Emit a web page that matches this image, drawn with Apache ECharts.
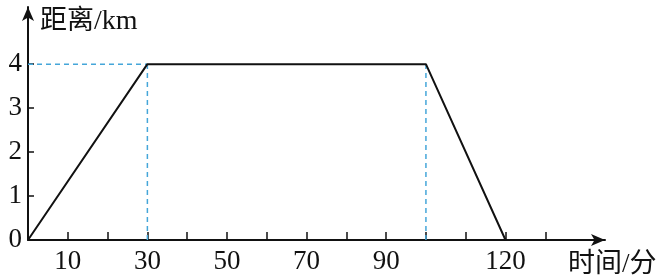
<!DOCTYPE html>
<html><head><meta charset="utf-8">
<script src="https://cdn.jsdelivr.net/npm/echarts@6/dist/echarts.min.js"></script>
<style>html,body{margin:0;padding:0;background:#fff}#c{width:664px;height:279px}</style>
</head><body><div id="c"></div>
<script>
const pathTimes = [0, 30, 100, 120];
const pathDist = [0, 4, 4, 0];
const xTickValues = [10, 20, 30, 40, 50, 60, 70, 80, 90, 100, 110, 120, 130];
const xLabelValues = [10, 30, 50, 70, 90, 120];
const yTickValues = [1, 2, 3, 4];
const yLabelValues = [0, 1, 2, 3, 4];
const guideH = [[0, 4], [30, 4]];
const guideV1 = [[30, 0], [30, 4]];
const guideV2 = [[100, 0], [100, 4]];

const FONT = '"Liberation Serif", "Noto Sans CJK SC", serif';
const chart = echarts.init(document.getElementById('c'));
const dashStyle = {color: '#45a6d9', width: 1.5, type: [5, 4]};
chart.setOption({
  animation: false,
  grid: {left: 28, right: 59, top: 7, bottom: 39},
  xAxis: {
    type: 'value', min: 0, max: 145, interval: 10,
    axisLine: {show: true, symbol: ['none', 'arrow'], symbolSize: [9, 14], lineStyle: {color: '#111', width: 2}},
    axisTick: {show: true, inside: true, length: 8, lineStyle: {color: '#111', width: 1.5}, customValues: xTickValues},
    axisLabel: {customValues: xLabelValues, color: '#111', fontFamily: FONT, fontSize: 27, margin: 8},
    splitLine: {show: false},
    name: '时间/分', nameLocation: 'end', nameGap: -37,
    nameTextStyle: {color: '#111', fontFamily: FONT, fontSize: 27, align: 'left', verticalAlign: 'top', padding: [11, 0, 0, 0]}
  },
  yAxis: {
    type: 'value', min: 0, max: 5.3, interval: 1,
    axisLine: {show: true, symbol: ['none', 'arrow'], symbolSize: [9, 14], lineStyle: {color: '#111', width: 2}},
    axisTick: {show: true, inside: true, length: 6, lineStyle: {color: '#111', width: 1.5}, customValues: yTickValues},
    axisLabel: {customValues: yLabelValues, color: '#111', fontFamily: FONT, fontSize: 27, margin: 6},
    splitLine: {show: false},
    name: '{c|距离}{l|/km}', nameLocation: 'end', nameGap: -15,
    nameTextStyle: {color: '#111', fontFamily: FONT, fontSize: 27, align: 'left', verticalAlign: 'middle', padding: [0, 0, 0, 12],
      rich: {c: {fontFamily: FONT, fontSize: 27, color: '#111'}, l: {fontFamily: FONT, fontSize: 28, color: '#111'}}}
  },
  series: [
    {type: 'line', data: guideH, symbol: 'none', lineStyle: dashStyle, z: 1},
    {type: 'line', data: guideV1, symbol: 'none', lineStyle: dashStyle, z: 1},
    {type: 'line', data: guideV2, symbol: 'none', lineStyle: dashStyle, z: 1},
    {type: 'line', data: pathTimes.map((t, i) => [t, pathDist[i]]), symbol: 'none',
     lineStyle: {color: '#111', width: 2}, z: 3}
  ]
});
</script></body></html>
